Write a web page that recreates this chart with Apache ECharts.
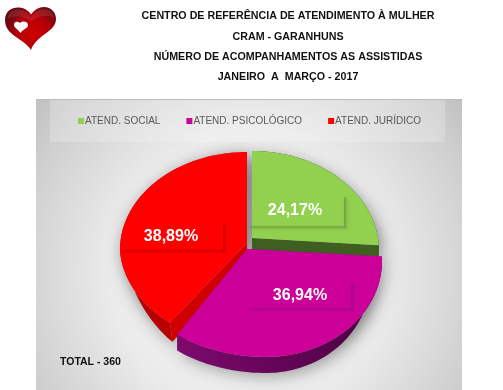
<!DOCTYPE html>
<html>
<head>
<meta charset="utf-8">
<script src="https://cdn.jsdelivr.net/npm/echarts@6/dist/echarts.min.js"></script>
<style>
html,body{margin:0;padding:0;background:#fff}
#chart{width:503px;height:390px}
</style>
</head>
<body>
<div id="chart"></div>
<script>
const titleLines = ['CENTRO DE REFERÊNCIA DE ATENDIMENTO À MULHER', 'CRAM - GARANHUNS', 'NÚMERO DE ACOMPANHAMENTOS AS ASSISTIDAS', 'JANEIRO  A  MARÇO - 2017'];
const categories = ['ATEND. SOCIAL', 'ATEND. PSICOLÓGICO', 'ATEND. JURÍDICO'];
const values = [87, 133, 140];
const total = values.reduce((a, b) => a + b, 0);

const colors = ['#92d050', '#cc0099', '#ff0000'];
const titleY = [6, 27, 47, 67];
const FONT = '"Liberation Sans", Arial, sans-serif';

// the picture is a 3D pie seen from above, each slice pulled out of the centre
const slices = [
    {cx: 252, cy: 238, ox: 0, rxR: 127, rxL: 127, lowR: 1, lowL: 1, oy: 12.5, back: 99.5, front: 99.5, lean: 0, depth: 12, taper: false, z: 3,
     cut: '#3f5f20', wall: '#3f5f20', line: '#6a9a3c', box: [250, 197, 95, 30], text: [295, 211]},
    {cx: 247, cy: 249, ox: 19, rxR: 116, rxL: 138, lowR: 0.905, lowL: 1, oy: 12, back: 87, front: 96, lean: 0, depth: 16, taper: false, z: 4,
     cut: '#7a0a6a', wall: ['#7d0a6d', '#4a0040'], line: '#9e0a85', box: [250, 284, 102, 25], text: [300, 296]},
    {cx: 247, cy: 243, ox: 0, rxR: 127, rxL: 127, lowR: 1, lowL: 0.97, oy: 7, back: 98, front: 95, lean: 6, depth: 19, taper: true, z: 2,
     cut: '#d00000', wall: '#b80000', line: '#cc0000', box: [122, 223, 102, 28], text: [171, 237]}
];

function startOf(i) {
    return values.slice(0, i).reduce((a, b) => a + b, 0) * 360 / total;
}
// angle clockwise from 12 o'clock to a point on the slice rim
function rim(s, deg, low) {
    const t = deg * Math.PI / 180, c = Math.cos(t), n = Math.sin(t);
    let rx = n > 0 ? s.rxR : s.rxL;
    if (low) rx *= n > 0 ? s.lowR : s.lowL;
    const x = s.ox + rx * n + s.lean * Math.max(0, -c);
    let y = s.oy - (c > 0 ? s.back : s.front) * c;
    if (low) y += s.taper ? s.depth * Math.min(1, Math.max(0, (-c - 0.2) / 0.56)) : s.depth;
    return [s.cx + x, s.cy + y];
}
function arc(s, a, b, low) {
    const pts = [];
    for (let d = a; d < b; d += 2) pts.push(rim(s, d, low));
    pts.push(rim(s, b, low));
    return pts;
}

function renderShadow(params, api) {
    const i = params.dataIndex, s = slices[i], a = startOf(i), b = a + api.value(0) * 360 / total;
    const shadow = {fill: '#aaa', shadowColor: 'rgba(0,0,0,0.3)', shadowBlur: 16, shadowOffsetX: 3, shadowOffsetY: 4};
    return {
        type: 'group',
        children: [
            {type: 'polygon', shape: {points: arc(s, a, b, true).concat([[s.cx, s.cy + s.depth]])}, style: shadow},
            {type: 'polygon', shape: {points: arc(s, a, b, false).concat([[s.cx, s.cy]])}, style: shadow}
        ]
    };
}

function renderSlice(i) {
    return function (params, api) {
        const s = slices[i], a = startOf(i), b = a + api.value(0) * 360 / total;
        const top = arc(s, a, b, false), low = arc(s, a, b, true);
        const apex = [s.cx, s.cy], apexLow = [s.cx, s.cy + s.depth];
        const wallFill = Array.isArray(s.wall) ? new echarts.graphic.LinearGradient(0, 0, 1, 0, [
            {offset: 0, color: s.wall[0]}, {offset: 1, color: s.wall[1]}
        ]) : s.wall;
        const [bx, by, bw, bh] = s.box;
        return {
            type: 'group',
            children: [
                {type: 'polygon', shape: {points: top.concat(low.slice().reverse())}, style: {fill: wallFill}},
                {type: 'polygon', shape: {points: [apex, top[0], low[0], apexLow]}, style: {fill: s.cut}},
                {type: 'polygon', shape: {points: [apex, top[top.length - 1], low[low.length - 1], apexLow]}, style: {fill: s.cut}},
                {type: 'polygon', shape: {points: top.concat([apex])}, style: {fill: colors[i]}},
                {type: 'polyline', shape: {points: [[bx, by + bh], [bx + bw, by + bh], [bx + bw, by]]},
                    style: {fill: null, stroke: s.line, lineWidth: 1.2, shadowColor: s.line, shadowBlur: 3, shadowOffsetX: 1, shadowOffsetY: 1}},
                {type: 'text', x: s.text[0], y: s.text[1], style: {
                    text: (api.value(0) / total * 100).toFixed(2).replace('.', ',') + '%',
                    fill: '#fff', font: 'bold 16px ' + FONT, align: 'center', verticalAlign: 'middle'
                }}
            ]
        };
    };
}

const heart = 'M31 50C24 38 5 36 5 20C5 11 12 7 19 7.5C25 8 29 11 31 14.5C34 10 39 7 44 7C51 7 56 12 56 19C56 32 36 35 31 50Z';
const gloss = 'M8 19C8 12 13 9 19 9.5C25 10 28 13 31 17C34 12 39 9 44 9C50 9 54 13 54 18C46 13 38 17 31 21C24 17 15 14 8 19Z';
const smallHeart = 'M20.5 33C18 29 14 28 14 24.5C14 22 17 20.5 20 23C23 20.5 28 21.5 28 25C28 28.5 23 29 20.5 33Z';

function renderLogo() {
    return {
        type: 'group',
        children: [
            {type: 'path', shape: {pathData: heart}, style: {fill: new echarts.graphic.RadialGradient(0.55, 0.6, 0.65, [
                {offset: 0, color: '#d00000'}, {offset: 0.6, color: '#b00008'}, {offset: 1, color: '#6a0a12'}
            ])}},
            {type: 'path', shape: {pathData: gloss}, style: {fill: 'rgba(255,190,190,0.12)'}},
            {type: 'path', shape: {pathData: smallHeart}, style: {fill: '#fff'}}
        ]
    };
}

let chart = echarts.init(document.getElementById('chart'), null, {renderer: 'canvas'});
let option = {
    animation: false,
    backgroundColor: '#fff',
    title: titleLines.map((t, i) => ({
        text: t,
        left: 283,
        top: titleY[i],
        textAlign: 'center',
        textStyle: {fontFamily: FONT, fontSize: 10.7, fontWeight: 'bold', color: '#111'}
    })),
    legend: {
        data: categories,
        left: 73,
        top: 111,
        itemWidth: 6,
        itemHeight: 6,
        itemGap: 26,
        icon: 'rect',
        selectedMode: false,
        textStyle: {fontFamily: FONT, fontSize: 10, color: '#595959', padding: [0, 0, 0, -4]}
    },
    graphic: [
        {type: 'rect', shape: {x: 36, y: 99, width: 426, height: 291}, z: 0, silent: true,
            style: {fill: new echarts.graphic.RadialGradient(0.5, 0.6, 0.95, [
                {offset: 0, color: '#f8f8f8'}, {offset: 0.5, color: '#ebebeb'}, {offset: 0.85, color: '#cfcfcf'}, {offset: 1, color: '#c0c0c0'}
            ])}},
        {type: 'rect', shape: {x: 36, y: 99, width: 426, height: 1}, z: 0, silent: true, style: {fill: '#bdbdbd'}},
        {type: 'rect', shape: {x: 50, y: 100, width: 395, height: 42}, z: 0, silent: true, style: {fill: 'rgba(255,255,255,0.22)'}},
        {type: 'text', x: 60, y: 362, z: 0, silent: true,
            style: {text: 'TOTAL - ' + total, fill: '#111', font: 'bold 10.5px ' + FONT, verticalAlign: 'middle'}}
    ],
    series: [
        {name: 'logo', type: 'custom', coordinateSystem: 'none', z: 1, silent: true, data: [0], renderItem: renderLogo},
        {name: 'sombra', type: 'custom', coordinateSystem: 'none', z: 1, silent: true, data: values, renderItem: renderShadow}
    ].concat(categories.map((name, i) => ({
        name: name,
        type: 'custom',
        coordinateSystem: 'none',
        z: slices[i].z,
        itemStyle: {color: colors[i]},
        data: [values[i]],
        renderItem: renderSlice(i)
    })))
};
chart.setOption(option);
</script>
</body>
</html>
